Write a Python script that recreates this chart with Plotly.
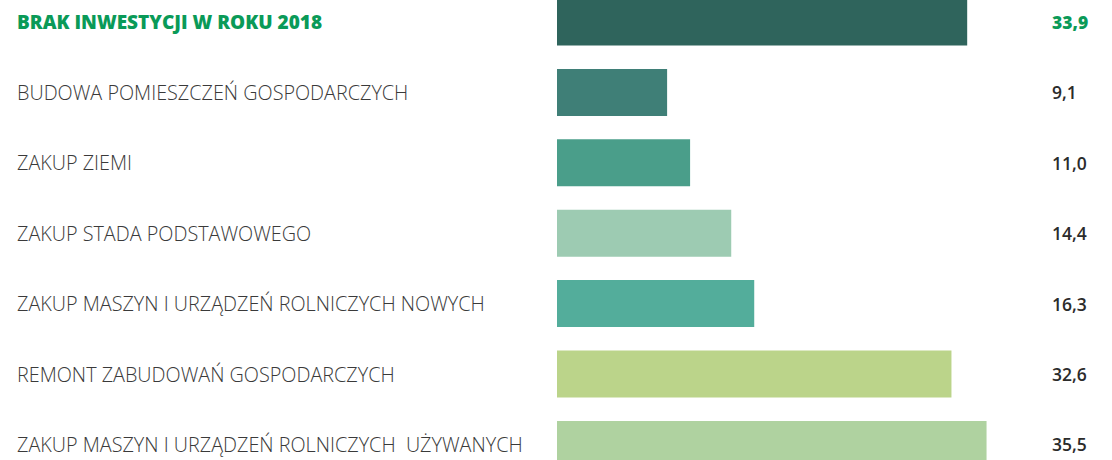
import plotly.graph_objects as go

categories = [
    "BRAK INWESTYCJI W ROKU 2018",
    "BUDOWA POMIESZCZEŃ GOSPODARCZYCH",
    "ZAKUP ZIEMI",
    "ZAKUP STADA PODSTAWOWEGO",
    "ZAKUP MASZYN I URZĄDZEŃ ROLNICZYCH NOWYCH",
    "REMONT ZABUDOWAŃ GOSPODARCZYCH",
    "ZAKUP MASZYN I URZĄDZEŃ ROLNICZYCH \u00a0UŻYWANYCH",
]
values = [33.9, 9.1, 11.0, 14.4, 16.3, 32.6, 35.5]
value_labels = ["33,9", "9,1", "11,0", "14,4", "16,3", "32,6", "35,5"]
bar_colors = ["#2f645c", "#3f7f77", "#4a9e8a", "#9dcbb2", "#53ad9b", "#bbd48a", "#afd2a0"]

W, H = 1112, 460
px_per_unit = 12.1
x0_px = 557
pitch = 70.4
first_center = 22

idx = list(range(len(categories)))
y_lo = -first_center / pitch
y_hi = y_lo + H / pitch

fig = go.Figure(go.Bar(
    x=values, y=idx, orientation="h",
    marker=dict(color=bar_colors, line=dict(width=0)),
    width=47 / pitch, hoverinfo="skip",
))

green = "#0a9a58"
for i, (c, lab) in enumerate(zip(categories, value_labels)):
    first = i == 0
    fig.add_annotation(
        x=15 / W, xref="paper", y=i, yref="y", text=c, showarrow=False,
        xanchor="left", yanchor="middle",
        font=dict(family="Open Sans", size=19 if first else 19.8,
                  color=green if first else "#3a3a3a",
                  weight=800 if first else 300),
    )
    fig.add_annotation(
        x=1050 / W, xref="paper", y=i, yref="y", text=lab, showarrow=False,
        xanchor="left", yanchor="middle",
        font=dict(family="Open Sans", size=17.5,
                  color=green if first else "#2b2b2b", weight=800 if first else 600),
    )

fig.update_layout(
    width=W, height=H, margin=dict(l=0, r=0, t=0, b=0),
    paper_bgcolor="white", plot_bgcolor="white", showlegend=False,
    xaxis=dict(range=[-x0_px / px_per_unit, (W - x0_px) / px_per_unit],
               visible=False, fixedrange=True),
    yaxis=dict(range=[y_hi, y_lo], visible=False, fixedrange=True),
)

fig.write_html("out.html", config={"displayModeBar": False},
               post_script="document.body.style.margin='0';document.body.style.overflow='hidden';")
